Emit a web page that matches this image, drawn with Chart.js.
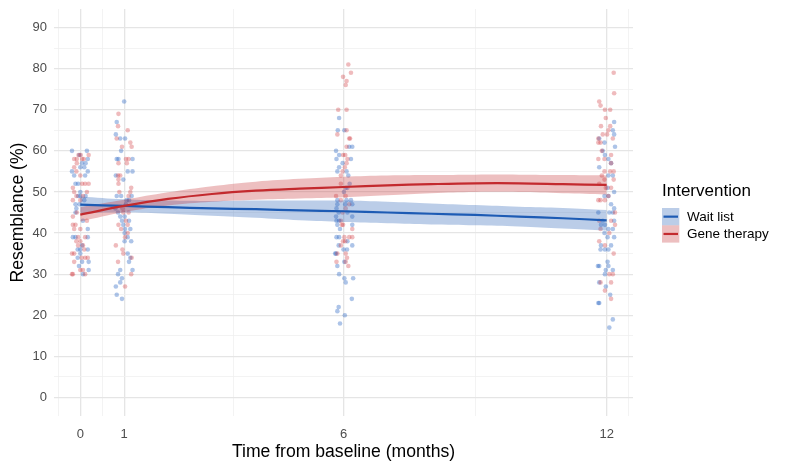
<!DOCTYPE html>
<html>
<head>
<meta charset="utf-8">
<script src="https://cdn.jsdelivr.net/npm/chart.js@4/dist/chart.umd.min.js"></script>
<style>
  html, body { margin: 0; padding: 0; background: #fff; }
  #wrap { width: 792px; height: 468px; position: relative; }
</style>
</head>
<body>
<div id="wrap"><canvas id="c" width="792" height="468"></canvas></div>
<script>
// ---- Data ----
const seriesNames = ['Wait list', 'Gene therapy'];
const timepoints = [0, 1, 6, 12];
const xMajorTicks = [0, 1, 6, 12];
const xMinorTicks = [-0.5, 0.5, 3.5, 9, 12.5];
const yMajorTicks = [0, 10, 20, 30, 40, 50, 60, 70, 80, 90];
const yMinorTicks = [5, 15, 25, 35, 45, 55, 65, 75, 85];

// observations: [horizontal jitter (months), resemblance %]
const wait0 = [[-0.19,60],[0.15,60],[-0.02,59],[0.17,58],[0.04,57],[0.12,57],[0,56],[0.09,56],[-0.19,55],[0.17,55],[-0.14,54],[0.11,54],[-0.11,52],[-0.05,52],[0,50],[-0.05,49],[0,49],[0.12,49],[0.09,48],[-0.11,47],[-0.02,47],[-0.09,46],[-0.11,45],[0.06,43],[0.17,41],[-0.17,39],[-0.11,39],[0.17,39],[0.04,37],[-0.06,36],[0,36],[0.17,36],[0,35],[-0.06,34],[0.04,33],[0.19,33],[-0.03,32],[0.19,31],[0.06,30]];
const gene0 = [[-0.04,59],[0.01,59],[0.19,59],[-0.14,58],[-0.08,58],[0.04,58],[0.08,58],[-0.08,57],[-0.14,56],[-0.09,55],[0,54],[0.04,52],[0.11,52],[0.19,52],[-0.17,51],[-0.14,50],[0.15,50],[-0.09,49],[0.06,49],[-0.17,48],[0,48],[-0.08,45],[-0.17,44],[0.15,43],[-0.17,42],[-0.11,42],[-0.14,41],[0,41],[-0.05,39],[0.11,39],[-0.09,38],[0,38],[-0.05,37],[0.06,37],[0.09,36],[-0.19,35],[-0.14,35],[0.03,34],[0.11,34],[0.17,34],[-0.14,33],[0,31],[0.06,31],[-0.19,30],[-0.17,30],[0.11,30]];
const wait1 = [[0,72],[-0.17,67],[-0.19,64],[-0.09,63],[0.02,63],[-0.07,60],[-0.17,58],[-0.13,58],[0.19,58],[0.08,55],[0.19,55],[-0.19,54],[-0.02,53],[-0.17,49],[-0.07,49],[0.17,49],[0.06,48],[0.11,48],[-0.2,46],[0.04,47],[-0.14,45],[-0.09,44],[0.01,44],[-0.05,43],[0.11,43],[-0.02,42],[0.02,41],[0.14,41],[0.01,40],[0.08,39],[0.01,38],[0.16,38],[0.08,35],[0.14,34],[0.11,33],[0.19,31],[-0.09,31],[-0.14,30],[-0.05,29],[-0.09,28],[-0.19,27],[-0.05,24],[-0.17,25]];
const gene1 = [[-0.13,69],[-0.14,66],[0.08,65],[-0.17,63],[0.14,62],[-0.05,61],[0.17,61],[0.04,58],[0.1,58],[0.06,57],[-0.13,57],[-0.14,54],[-0.09,54],[-0.13,53],[-0.13,52],[0.16,51],[0.14,50],[-0.11,50],[0.1,49],[-0.04,46],[-0.02,45],[0.1,45],[0.04,43],[-0.13,42],[0.08,42],[-0.07,41],[0.08,40],[0.02,39],[-0.19,37],[-0.04,36],[-0.02,35],[0.17,34],[-0.14,33],[0.16,30],[0.02,27]];
const wait6 = [[-0.1,68],[-0.13,65],[0.02,65],[0.13,61],[0.2,61],[-0.17,60],[-0.1,59],[-0.16,58],[0.17,58],[-0.02,57],[-0.1,56],[-0.14,55],[0.07,55],[0.11,54],[0.14,52],[0.05,51],[0.09,51],[0.01,50],[-0.14,48],[0.07,48],[0.17,48],[-0.14,47],[0.04,47],[0.2,47],[-0.16,46],[-0.11,45],[0.09,45],[-0.17,44],[0.2,44],[-0.16,43],[-0.1,43],[-0.14,42],[0.2,42],[-0.08,41],[-0.16,39],[-0.1,39],[0.09,38],[0.2,37],[-0.11,37],[0,36],[0.08,36],[-0.19,35],[-0.17,35],[0.02,33],[-0.14,32],[-0.1,30],[0.02,29],[0.22,29],[0.05,28],[0.19,24],[-0.11,22],[-0.14,21],[0.03,20],[-0.08,18]];
const gene6 = [[0.11,81],[0.17,79],[-0.01,78],[0.07,77],[0.05,76],[-0.12,70],[0.07,70],[-0.14,64],[0.07,65],[0.13,63],[0.15,63],[0.07,61],[-0.01,59],[0.04,59],[0.09,58],[0.07,57],[0.03,56],[-0.02,55],[-0.06,54],[-0.06,52],[-0.17,49],[0.05,49],[-0.06,48],[0.13,47],[0.05,46],[-0.02,45],[-0.06,43],[-0.01,42],[-0.04,42],[0.2,41],[0.02,39],[0.13,39],[0.2,39],[-0.01,38],[0.04,38],[-0.06,37],[-0.14,35],[0.05,35],[0.08,34],[0.05,33],[-0.16,33],[0.11,32]];
const wait12 = [[0.17,67],[0.14,65],[0.17,64],[-0.17,63],[-0.05,62],[0.19,61],[-0.09,60],[-0.04,59],[0.04,58],[0.1,57],[-0.17,56],[0.14,54],[0.04,54],[0.02,51],[-0.05,49],[0.04,49],[0.17,50],[0.1,47],[0.17,46],[0.14,45],[0.06,45],[-0.19,45],[-0.09,43],[0.17,43],[-0.13,42],[-0.04,42],[0.14,41],[0.04,41],[-0.05,40],[0.02,39],[0.17,39],[-0.13,37],[0.1,37],[-0.14,36],[-0.04,36],[0.04,36],[0.02,33],[-0.2,32],[-0.17,32],[0.04,32],[-0.02,31],[0.14,31],[-0.04,30],[-0.17,28],[-0.02,27],[0.08,25],[-0.17,23],[-0.19,23],[0.14,19],[0.06,17]];
const gene12 = [[0.16,79],[0.17,74],[-0.17,72],[-0.14,71],[-0.04,70],[0.08,70],[-0.02,68],[-0.13,66],[0.08,66],[0.04,65],[-0.09,64],[0.01,64],[0.14,63],[-0.19,63],[-0.14,62],[-0.19,62],[-0.11,60],[0.1,59],[-0.19,58],[-0.05,58],[0.1,57],[0.16,55],[-0.05,55],[0.08,55],[-0.11,54],[-0.05,53],[0.16,53],[-0.17,52],[-0.02,51],[0.1,51],[-0.19,48],[-0.04,48],[-0.14,48],[0.04,49],[0.19,45],[-0.17,43],[0.1,43],[0.19,42],[-0.14,41],[0.06,40],[-0.17,38],[-0.04,37],[0.16,35],[0.06,30],[0.14,30],[-0.14,28],[0.1,28],[-0.04,26],[0.1,24]];

// smoothed fit (loess-like) with confidence band
const smoothX     = [0, 1, 2, 3, 4, 5, 6, 7, 8, 9, 10, 11, 12];
const waitFit     = [46.9, 46.6, 46.3, 46.0, 45.8, 45.5, 45.3, 45.0, 44.7, 44.4, 44.0, 43.6, 43.1];
const waitLower   = [44.9, 45.0, 44.7, 44.2, 43.7, 43.1, 42.7, 42.4, 42.1, 41.9, 41.6, 41.1, 40.6];
const waitUpper   = [48.9, 48.2, 47.9, 47.8, 47.9, 47.9, 47.9, 47.6, 47.2, 46.8, 46.4, 46.1, 45.6];
const geneFit     = [44.5, 46.6, 48.3, 49.5, 50.3, 50.8, 51.2, 51.6, 51.9, 52.1, 52.1, 51.9, 51.7];
const geneLower   = [42.8, 45.1, 46.7, 47.6, 48.1, 48.4, 48.7, 49.2, 49.7, 50.0, 50.0, 49.7, 49.4];
const geneUpper   = [46.3, 48.1, 49.9, 51.4, 52.5, 53.2, 53.7, 54.0, 54.1, 54.2, 54.2, 54.1, 54.0];

// ---- Build datasets ----
const BLUE = '#1D5BB4';
const RED = '#C32A2E';
const waitObs = [wait0, wait1, wait6, wait12];
const geneObs = [gene0, gene1, gene6, gene12];
function toPoints(groups) {
  const out = [];
  groups.forEach((g, i) => g.forEach(([j, v]) => out.push({ x: timepoints[i] + j, y: v })));
  return out;
}
function toLine(vals) { return smoothX.map((x, i) => ({ x, y: vals[i] })); }

const datasets = [
  { label: 'wait-pts', data: toPoints(waitObs), pointRadius: 2.3, pointHoverRadius: 2.3, pointBackgroundColor: 'rgba(40,100,195,0.38)', pointBorderWidth: 0, showLine: false, order: 20 },
  { label: 'gene-pts', data: toPoints(geneObs), pointRadius: 2.3, pointHoverRadius: 2.3, pointBackgroundColor: 'rgba(205,50,55,0.33)', pointBorderWidth: 0, showLine: false, order: 19 },
  { label: 'wait-lo', data: toLine(waitLower), showLine: true, borderWidth: 0, borderColor: 'rgba(0,0,0,0)', pointRadius: 0, fill: false, tension: 0.4, order: 10 },
  { label: 'wait-hi', data: toLine(waitUpper), showLine: true, borderWidth: 0, borderColor: 'rgba(0,0,0,0)', pointRadius: 0, fill: '-1', backgroundColor: 'rgba(29,91,180,0.30)', tension: 0.4, order: 9 },
  { label: 'gene-lo', data: toLine(geneLower), showLine: true, borderWidth: 0, borderColor: 'rgba(0,0,0,0)', pointRadius: 0, fill: false, tension: 0.4, order: 8 },
  { label: 'gene-hi', data: toLine(geneUpper), showLine: true, borderWidth: 0, borderColor: 'rgba(0,0,0,0)', pointRadius: 0, fill: '-1', backgroundColor: 'rgba(195,42,46,0.30)', tension: 0.4, order: 7 },
  { label: seriesNames[0], data: toLine(waitFit), showLine: true, borderColor: BLUE, borderWidth: 2.2, pointRadius: 0, fill: false, tension: 0.4, order: 2 },
  { label: seriesNames[1], data: toLine(geneFit), showLine: true, borderColor: RED, borderWidth: 2.2, pointRadius: 0, fill: false, tension: 0.4, order: 1 }
];

// ---- Custom legend (ggplot style) ----
const legendPlugin = {
  id: 'ggLegend',
  afterDraw(chart) {
    const ctx = chart.ctx;
    ctx.save();
    ctx.fillStyle = '#000';
    ctx.font = '17px "Liberation Sans", Arial, sans-serif';
    ctx.textBaseline = 'middle';
    ctx.textAlign = 'left';
    ctx.fillText('Intervention', 662, 191);
    const items = [
      { name: seriesNames[0], line: BLUE, fill: 'rgba(29,91,180,0.30)' },
      { name: seriesNames[1], line: RED, fill: 'rgba(195,42,46,0.30)' }
    ];
    items.forEach((it, i) => {
      const top = 208 + i * 17.3;
      ctx.fillStyle = it.fill;
      ctx.fillRect(662, top, 17.3, 17.3);
      ctx.strokeStyle = it.line;
      ctx.lineWidth = 2.2;
      ctx.beginPath();
      ctx.moveTo(663.5, top + 8.65);
      ctx.lineTo(678, top + 8.65);
      ctx.stroke();
      ctx.fillStyle = '#000';
      ctx.font = '13.5px "Liberation Sans", Arial, sans-serif';
      ctx.fillText(it.name, 687, top + 9);
    });
    ctx.restore();
  }
};

const FONT = '"Liberation Sans", Arial, sans-serif';
const majorX = new Set(xMajorTicks);
const majorY = new Set(yMajorTicks);

new Chart(document.getElementById('c'), {
  type: 'scatter',
  data: { datasets },
  plugins: [legendPlugin],
  options: {
    responsive: false,
    animation: false,
    devicePixelRatio: 1,
    layout: { padding: { left: 0, right: 159, top: 9, bottom: 0 } },
    plugins: { legend: { display: false }, tooltip: { enabled: false } },
    scales: {
      x: {
        type: 'linear', min: -0.6, max: 12.6,
        afterBuildTicks: (s) => { s.ticks = xMajorTicks.concat(xMinorTicks).sort((a, b) => a - b).map(v => ({ value: v })); },
        afterFit: (s) => { s.height = 52; },
        ticks: { autoSkip: false, maxRotation: 0, padding: 11, color: '#4D4D4D', font: { family: FONT, size: 13 },
          callback: (v) => majorX.has(v) ? String(v) : '' },
        grid: { drawTicks: false, tickLength: 0,
          color: (c) => majorX.has(c.tick && c.tick.value) ? '#E5E5E5' : '#F0F0F0',
          lineWidth: (c) => majorX.has(c.tick && c.tick.value) ? 1.3 : 0.8 },
        border: { display: false },
        title: { display: true, text: 'Time from baseline (months)', color: '#000', font: { family: FONT, size: 17.6 }, padding: { top: 0, bottom: 5.3 } }
      },
      y: {
        type: 'linear', min: -4.5, max: 94.5,
        afterBuildTicks: (s) => { s.ticks = yMajorTicks.concat(yMinorTicks).sort((a, b) => a - b).map(v => ({ value: v })); },
        afterFit: (s) => { s.width = 54; s.paddingTop = 0; s.paddingBottom = 0; },
        ticks: { autoSkip: false, padding: 7, color: '#4D4D4D', font: { family: FONT, size: 13 },
          callback: (v) => majorY.has(v) ? String(v) : '' },
        grid: { drawTicks: false, tickLength: 0,
          color: (c) => majorY.has(c.tick && c.tick.value) ? '#E5E5E5' : '#F0F0F0',
          lineWidth: (c) => majorY.has(c.tick && c.tick.value) ? 1.3 : 0.8 },
        border: { display: false },
        title: { display: true, text: 'Resemblance (%)', color: '#000', font: { family: FONT, size: 17.6 }, padding: { top: 7.6, bottom: 0 } }
      }
    }
  }
});
</script>
</body>
</html>
